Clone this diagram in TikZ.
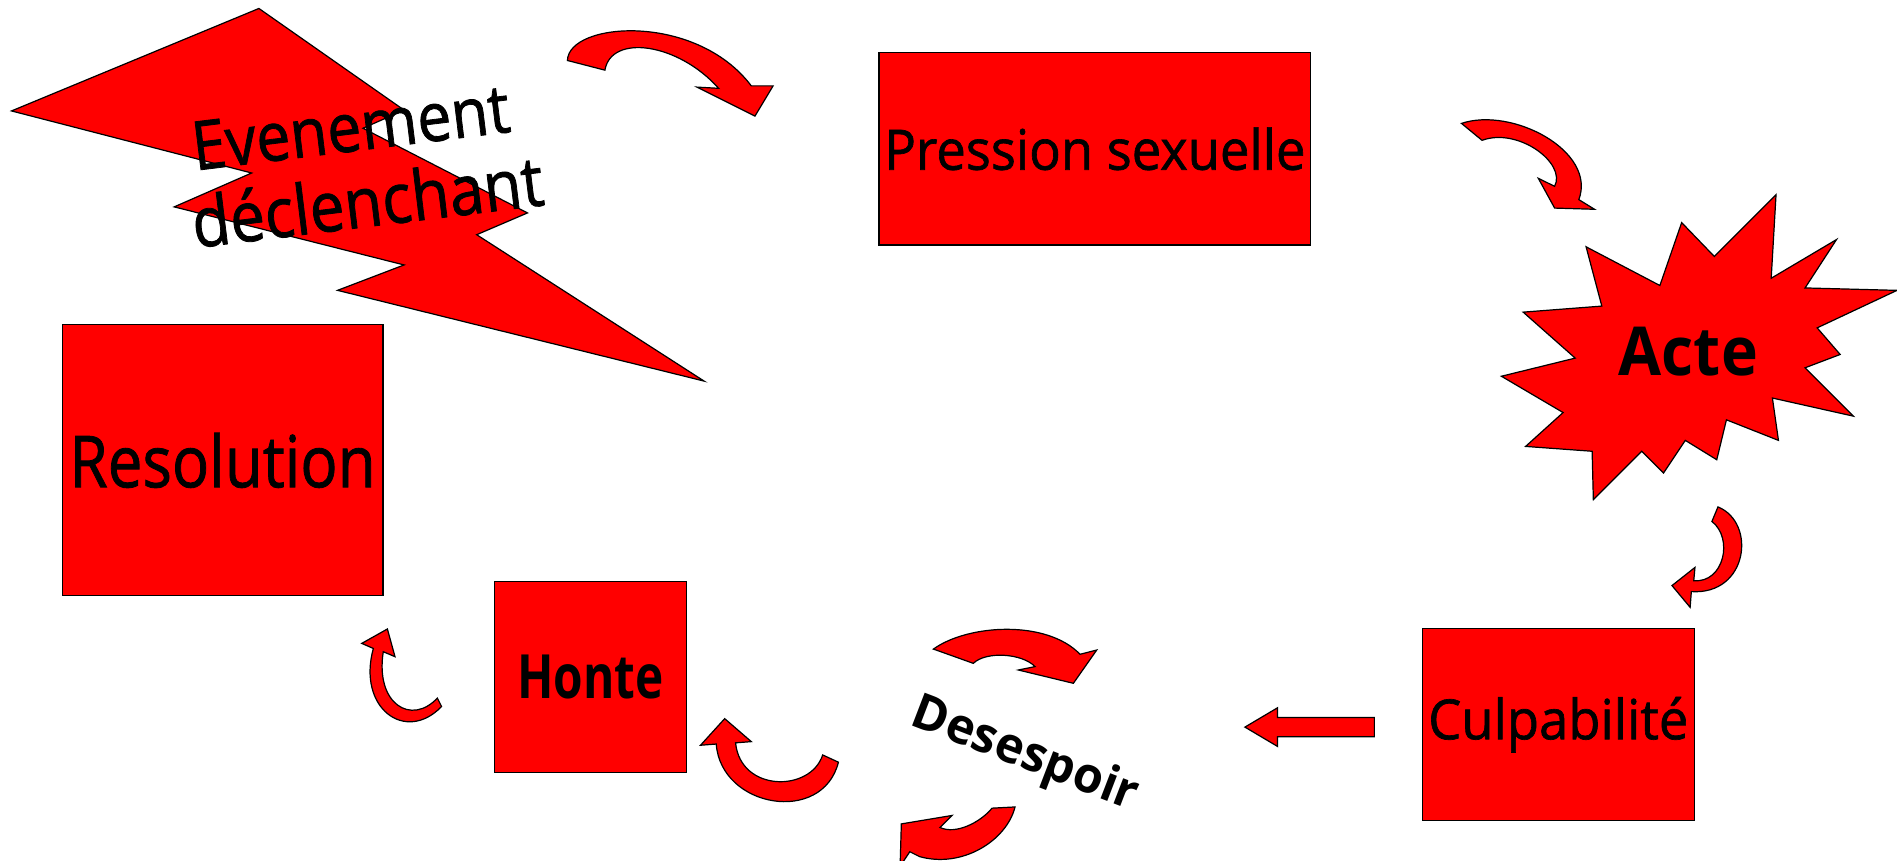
\documentclass[tikz,border=0pt]{standalone}
\usepackage{fontspec}
\setmainfont{Open Sans}
\newfontfamily\plainlabel[FakeBold=1.2]{Open Sans}
\usepackage{graphicx}
\tikzset{
  shapefill/.style={fill=red, draw=black, line width=1pt, line join=miter},
  boxnode/.style={shapefill, rectangle, inner sep=0pt, anchor=north west},
  label text/.style={inner sep=0pt, text=black},
}
\begin{document}
\begin{tikzpicture}[x=1pt, y=-1pt]
\useasboundingbox (0,0) rectangle (1568,711);
\clip (0,0) rectangle (1568,711);

% lightning bolt with the trigger event
\draw[shapefill] (9.5,91.7) -- (214,7) -- (334,91) -- (300,106) -- (436,176)
  -- (394,194) -- (582,315) -- (279,240) -- (334,219) -- (144,171) -- (208,143) -- cycle;
\node[label text, anchor=base west, rotate=7] (ev1) at (161,141)
  {\resizebox{264pt}{40pt}{\plainlabel Evenement}};
\node[label text, anchor=base west, rotate=7] (ev2) at (161,205)
  {\resizebox{292pt}{44pt}{\plainlabel déclenchant}};

% boxes
\node[boxnode, minimum width=357pt, minimum height=159pt] (pression) at (726,43)
  {\resizebox{348pt}{35pt}{\plainlabel Pression sexuelle}};
\node[boxnode, minimum width=265pt, minimum height=224pt] (resolution) at (51,268)
  {\resizebox{253pt}{45pt}{\plainlabel Resolution}};
\node[boxnode, minimum width=159pt, minimum height=158pt] (honte) at (408,480)
  {\resizebox{121pt}{36pt}{\bfseries Honte}};
\node[boxnode, minimum width=225pt, minimum height=159pt] (culpa) at (1175,519)
  {\resizebox{215pt}{35pt}{\plainlabel Culpabilité}};

% explosion star
\draw[shapefill] (1311,204) -- (1372,236) -- (1390,184) -- (1417,212) -- (1468,161)
  -- (1464,230) -- (1518,198) -- (1492,238) -- (1568,240) -- (1502,271)
  -- (1521,293) -- (1492,304) -- (1532,344) -- (1465,329) -- (1470,364)
  -- (1427,347) -- (1419,380) -- (1393,364) -- (1375,391) -- (1357,373)
  -- (1317,413) -- (1316,373) -- (1261,369) -- (1292,341) -- (1241,311)
  -- (1302,296) -- (1259,258) -- (1324,253) -- cycle;
\node[label text] (acte) at (1395.5,291) {\resizebox{115pt}{40pt}{\bfseries Acte}};

% despair label
\node[label text, anchor=base west, rotate=-21] (desespoir) at (751,599)
  {\resizebox{197pt}{31pt}{\bfseries Desespoir}};

% curved block arrows
\draw[shapefill] (469,50) .. controls (470,18) and (575,10) .. (621,71) -- (639,71)
  -- (624,96) -- (576,72) -- (594,73) .. controls (560,35) and (505,28) .. (500,58) -- cycle;
\draw[shapefill] (1208,102) .. controls (1250,88) and (1320,125) .. (1305,165)
  -- (1318,173) -- (1285,172) -- (1271.5,147.4) -- (1285,154)
  .. controls (1295,135) and (1255,105) .. (1225,116) -- cycle;
\draw[shapefill] (1420,419) .. controls (1452,432) and (1445,492) .. (1398,489)
  -- (1397,502) -- (1382,484) -- (1401,469) -- (1400,480)
  .. controls (1425,482) and (1433,445) .. (1415,431) -- cycle;
\draw[shapefill] (1136,593) -- (1056,593) -- (1056,585) -- (1029,601) -- (1056,617)
  -- (1056,609) -- (1136,609) -- cycle;
\draw[shapefill] (771.5,536.5) .. controls (800,516) and (865,512) .. (892.7,540.8)
  -- (906.5,537.3) -- (887.2,564.8) -- (841.7,553.8) -- (855.5,551)
  .. controls (845,540) and (815,538) .. (804.5,548.3) -- cycle;
\draw[shapefill] (745,681) -- (787,674) -- (777,684) .. controls (790,690) and (810,680) .. (820,668)
  -- (839,667) .. controls (832,695) and (795,718) .. (760,708) -- (752,704) -- (744,716) -- cycle;
\draw[shapefill] (592,615) .. controls (596,668) and (680,682) .. (693,630) -- (680,624)
  .. controls (670,655) and (612,655) .. (608,614) -- (621,613) -- (599,594) -- (579,616) -- cycle;
\draw[shapefill] (308.6,536) .. controls (295,585) and (335,615) .. (365,584) -- (361.5,577)
  .. controls (340,600) and (310,582) .. (316.8,538.7) -- (326.5,542.8) -- (320.2,519.9)
  -- (299,531.8) -- cycle;
\end{tikzpicture}
\end{document}
